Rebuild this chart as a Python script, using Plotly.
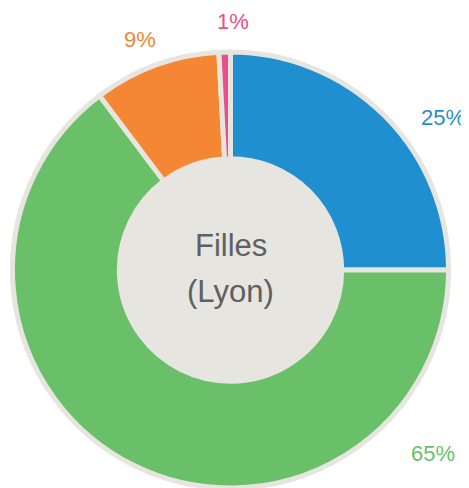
import plotly.graph_objects as go

# ---- data ----
categories = ["A", "B", "C", "D"]
values = [25, 64.75, 9.4, 0.85]
colors = ["#1f8fd0", "#6abf69", "#f58634", "#e8508a"]
center_lines = ["Filles", "(Lyon)"]

W, H = 469, 488
OFF = 8               # page body margin offset
CX, CY = 230.5 - OFF, 270 - OFF   # pixel centre in figure coords (from top)
R = 218
GRAY = "#e6e5df"

total = sum(values)
label_text = [f"{round(v / total * 100)}%" for v in values]
# label anchor positions in screen pixels (from top-left), with x anchor
label_pos = [(467, 117, "right"), (457, 453, "right"), (139.5, 40, "center"), (233, 22, "center")]

fig = go.Figure()
fig.add_trace(go.Pie(
    labels=categories,
    values=values,
    sort=False,
    direction="clockwise",
    rotation=0,
    hole=0.51,
    marker=dict(colors=colors, line=dict(color=GRAY, width=5)),
    textinfo="none",
    hoverinfo="label+percent",
    showlegend=False,
    domain=dict(x=[(CX - R) / W, (CX + R) / W], y=[(H - CY - R) / H, (H - CY + R) / H]),
))

hole_r = 113
fig.add_shape(type="circle", xref="paper", yref="paper", layer="below",
              x0=(CX - hole_r) / W, x1=(CX + hole_r) / W,
              y0=(H - CY - hole_r) / H, y1=(H - CY + hole_r) / H,
              fillcolor=GRAY, line=dict(width=0))

ann = []
for t, (px, py, xa), c in zip(label_text, label_pos, colors):
    ann.append(dict(text=t, x=(px - OFF) / W, y=1 - (py - OFF) / H, xref="paper", yref="paper",
                    xanchor=xa, yanchor="middle", showarrow=False,
                    font=dict(family="Liberation Sans, Arial", size=22, color=c)))
for t, py in zip(center_lines, [246, 291]):
    ann.append(dict(text=t, x=CX / W, y=1 - (py - OFF) / H, xref="paper", yref="paper",
                    xanchor="center", yanchor="middle", showarrow=False,
                    font=dict(family="Liberation Sans, Arial", size=31, color="#5f6062")))

fig.update_layout(width=W, height=H, margin=dict(l=0, r=0, t=0, b=0),
                  paper_bgcolor="white", plot_bgcolor="white", annotations=ann)
fig.write_html("out.html")
